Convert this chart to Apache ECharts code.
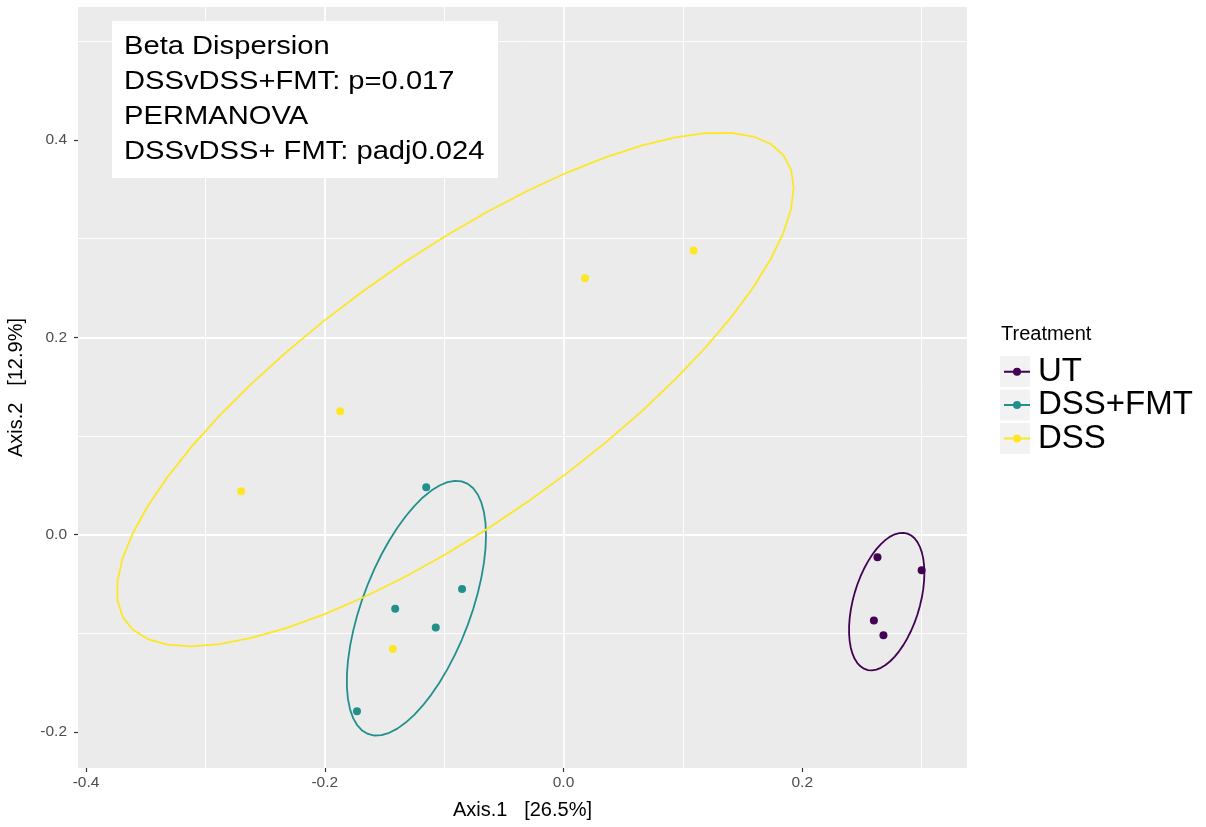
<!DOCTYPE html>
<html>
<head>
<meta charset="utf-8">
<script src="https://cdn.jsdelivr.net/npm/echarts@6/dist/echarts.min.js"></script>
<style>
  html, body { margin: 0; padding: 0; background: #fff; }
  #chart { width: 1206px; height: 827px; }
</style>
</head>
<body>
<div id="chart"></div>
<script>
// groups and colours (viridis, 3 levels)
const groups = ['UT', 'DSS+FMT', 'DSS']
const groupColors = ['#440154', '#21908C', '#FDE725']

// ordination scores
const utX = [0.263, 0.300, 0.260, 0.268]
const utY = [-0.023, -0.036, -0.087, -0.102]
const fmtX = [-0.115, -0.085, -0.141, -0.107, -0.173]
const fmtY = [0.048, -0.055, -0.075, -0.094, -0.179]
const dssX = [-0.270, -0.187, 0.018, 0.109, -0.143]
const dssY = [0.044, 0.125, 0.260, 0.288, -0.116]

// axis ticks
const xTicks = [-0.4, -0.2, 0.0, 0.2]
const xTickLabels = ['-0.4', '-0.2', '0.0', '0.2']
const yTicks = [-0.2, 0.0, 0.2, 0.4]
const yTickLabels = ['-0.2', '0.0', '0.2', '0.4']

const annotationLines = [
  'Beta Dispersion',
  'DSSvDSS+FMT: p=0.017',
  'PERMANOVA',
  'DSSvDSS+ FMT: padj0.024'
]

// confidence level of the ellipses
const ellipseLevel = 0.75

const FONT = '"Liberation Sans", Arial, Helvetica, sans-serif'

// MASS::cov.trob (nu = 5), as used by ggplot2 stat_ellipse(type = "t")
function covTrob(pts) {
  const n = pts.length
  const p = 2
  const nu = 5
  let w = pts.map(() => 1)
  let loc = [
    pts.reduce((s, q) => s + q[0], 0) / n,
    pts.reduce((s, q) => s + q[1], 0) / n
  ]
  let X = []
  for (let iter = 0; iter < 25; iter++) {
    const w0 = w.slice()
    X = pts.map(q => [q[0] - loc[0], q[1] - loc[1]])
    const sw = w.reduce((s, v) => s + v, 0)
    let a = 0; let b = 0; let c = 0
    X.forEach((d, i) => {
      a += w[i] * d[0] * d[0]
      b += w[i] * d[0] * d[1]
      c += w[i] * d[1] * d[1]
    })
    a /= sw; b /= sw; c /= sw
    const det = a * c - b * b
    const Q = X.map(d => (c * d[0] * d[0] - 2 * b * d[0] * d[1] + a * d[1] * d[1]) / det)
    w = Q.map(q => (nu + p) / (nu + q))
    const sw2 = w.reduce((s, v) => s + v, 0)
    loc = [
      pts.reduce((s, q, i) => s + w[i] * q[0], 0) / sw2,
      pts.reduce((s, q, i) => s + w[i] * q[1], 0) / sw2
    ]
    if (w.every((v, i) => Math.abs(v - w0[i]) < 0.01)) break
  }
  let a = 0; let b = 0; let c = 0
  X.forEach((d, i) => {
    a += w[i] * d[0] * d[0]
    b += w[i] * d[0] * d[1]
    c += w[i] * d[1] * d[1]
  })
  return { cov: [a / n, b / n, c / n], center: loc }
}

// ellipse path, same construction as ggplot2::calculate_ellipse
function ellipse(xs, ys, level) {
  const pts = xs.map((x, i) => [x, ys[i]])
  const dfd = pts.length - 1
  // qf(level, 2, dfd) in closed form
  const f = dfd / 2 * (Math.pow(1 - level, -2 / dfd) - 1)
  const radius = Math.sqrt(2 * f)
  const v = covTrob(pts)
  const r11 = Math.sqrt(v.cov[0])
  const r12 = v.cov[1] / r11
  const r22 = Math.sqrt(v.cov[2] - r12 * r12)
  const segments = 51
  const out = []
  for (let k = 0; k <= segments; k++) {
    const t = k * 2 * Math.PI / segments
    out.push([
      v.center[0] + radius * Math.cos(t) * r11,
      v.center[1] + radius * (Math.cos(t) * r12 + Math.sin(t) * r22)
    ])
  }
  return out
}

const groupX = [utX, fmtX, dssX]
const groupY = [utY, fmtY, dssY]

const series = []
groups.forEach((g, i) => {
  series.push({
    name: g,
    type: 'scatter',
    symbol: 'circle',
    symbolSize: 8,
    z: 3,
    itemStyle: { color: groupColors[i], opacity: 1 },
    data: groupX[i].map((x, k) => [x, groupY[i][k]])
  })
})
groups.forEach((g, i) => {
  series.push({
    name: g,
    type: 'line',
    showSymbol: false,
    symbol: 'none',
    smooth: false,
    z: 4,
    color: groupColors[i],
    lineStyle: { color: groupColors[i], width: 1.8 },
    data: ellipse(groupX[i], groupY[i], ellipseLevel)
  })
})

function tickFormatter(ticks, labels) {
  return function (v) {
    for (let i = 0; i < ticks.length; i++) {
      if (Math.abs(v - ticks[i]) < 1e-6) return labels[i]
    }
    return ''
  }
}

const chart = echarts.init(document.getElementById('chart'))

const option = {
  animation: false,
  backgroundColor: '#ffffff',
  grid: {
    left: 78,
    right: 239,
    top: 7,
    bottom: 59,
    show: true,
    backgroundColor: '#EBEBEB',
    borderWidth: 0,
    containLabel: false,
    outerBoundsMode: 'none'
  },
  xAxis: {
    type: 'value',
    min: -0.4067,
    max: 0.338,
    splitNumber: 4,
    axisLine: { show: false, onZero: false },
    axisTick: {
      show: true,
      customValues: xTicks,
      length: 4,
      lineStyle: { color: '#333333', width: 1.2 }
    },
    axisLabel: {
      customValues: xTicks,
      formatter: tickFormatter(xTicks, xTickLabels),
      color: '#4D4D4D',
      fontFamily: FONT,
      fontSize: 15.5,
      margin: 7
    },
    splitLine: { show: true, showMinLine: false, showMaxLine: false, lineStyle: { color: '#ffffff', width: 1.8 } },
    minorTick: { show: false, splitNumber: 2 },
    minorSplitLine: { show: true, lineStyle: { color: '#ffffff', width: 0.9 } },
    name: 'Axis.1   [26.5%]',
    nameLocation: 'middle',
    nameGap: 32,
    nameTextStyle: { color: '#000000', fontFamily: FONT, fontSize: 20 }
  },
  yAxis: {
    type: 'value',
    min: -0.2365,
    max: 0.5348,
    splitNumber: 4,
    axisLine: { show: false, onZero: false },
    axisTick: {
      show: true,
      customValues: yTicks,
      length: 4,
      lineStyle: { color: '#333333', width: 1.2 }
    },
    axisLabel: {
      customValues: yTicks,
      formatter: tickFormatter(yTicks, yTickLabels),
      color: '#4D4D4D',
      fontFamily: FONT,
      fontSize: 15.5,
      margin: 11
    },
    splitLine: { show: true, showMinLine: false, showMaxLine: false, lineStyle: { color: '#ffffff', width: 1.8 } },
    minorTick: { show: false, splitNumber: 2 },
    minorSplitLine: { show: true, lineStyle: { color: '#ffffff', width: 0.9 } },
    name: 'Axis.2   [12.9%]',
    nameLocation: 'middle',
    nameGap: 52,
    nameTextStyle: { color: '#000000', fontFamily: FONT, fontSize: 20 }
  },
  legend: {
    data: groups,
    orient: 'vertical',
    left: 1004,
    top: 355,
    padding: 0,
    itemGap: 0,
    itemWidth: 26,
    itemHeight: 8,
    icon: 'path://M0,4 L26,4 L26,6 L0,6 Z M9,5 A4,4 0 1 1 17,5 A4,4 0 1 1 9,5 Z',
    textStyle: { color: '#000000', fontFamily: FONT, fontSize: 33, lineHeight: 33.4, padding: [0, 0, 0, 3] }
  },
  graphic: [
    // legend key backgrounds
    { type: 'rect', z: -1, shape: { x: 1000, y: 356, width: 30, height: 31 }, style: { fill: '#F2F2F2' } },
    { type: 'rect', z: -1, shape: { x: 1000, y: 389.5, width: 30, height: 31 }, style: { fill: '#F2F2F2' } },
    { type: 'rect', z: -1, shape: { x: 1000, y: 423, width: 30, height: 31 }, style: { fill: '#F2F2F2' } },
    {
      type: 'text',
      x: 1001,
      y: 334,
      style: {
        text: 'Treatment',
        fill: '#000000',
        font: '20px ' + FONT,
        textVerticalAlign: 'middle'
      }
    },
    // annotation box
    {
      type: 'rect',
      z: 10,
      shape: { x: 112, y: 21, width: 386, height: 157 },
      style: { fill: '#ffffff' }
    },
    {
      type: 'text',
      z: 11,
      x: 124,
      y: 29.5,
      scaleX: 1.1,
      style: {
        text: annotationLines.join('\n'),
        fill: '#000000',
        font: '26.5px ' + FONT,
        lineHeight: 35,
        textVerticalAlign: 'top'
      }
    }
  ],
  series: series
}

chart.setOption(option)
</script>
</body>
</html>
